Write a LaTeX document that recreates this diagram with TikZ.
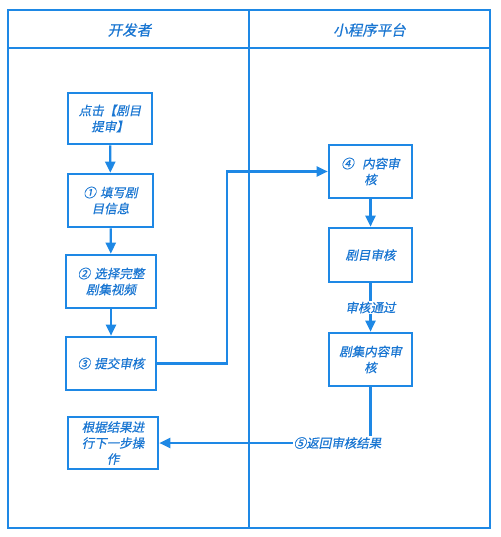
\documentclass[tikz,border=0pt]{standalone}
\usepackage{fontspec}
\setmainfont{Noto Sans CJK SC}[FakeSlant=0.2,FakeBold=0.5]
\usetikzlibrary{arrows.meta}
\definecolor{ln}{RGB}{30,136,229}
\definecolor{tx}{RGB}{25,118,210}
\begin{document}
\begin{tikzpicture}[x=1pt,y=-1pt,
  box/.style={draw=ln,line width=2.6pt,fill=white,text=tx,align=center,font=\fontsize{12.5}{16}\selectfont,inner sep=2pt},
  conn/.style={draw=ln,line width=2.3pt,-{Triangle[length=11pt,width=10pt]}},
  lbl/.style={text=tx,fill=white,font=\fontsize{12.5}{16}\selectfont,inner sep=1pt},
  head/.style={text=tx,font=\fontsize{14.5}{18}\selectfont,inner sep=1pt},
  frame/.style={draw=ln,line width=2.6pt}]
\useasboundingbox (0,0) rectangle (500,537);
\fill[white] (0,0) rectangle (500,537);
% frame
\draw[frame] (8,10) rectangle (490,528);
\draw[frame] (8,48) -- (490,48);
\draw[frame] (249,10) -- (249,528);
\node[head] (h1) at (129.5,30) {开发者};
\node[head] (h2) at (369.5,30) {小程序平台};
% left column
\node[box,minimum width=84pt,minimum height=51pt,text width=76pt] (a) at (110,118.5) {点击【剧目\\提审】};
\node[box,minimum width=85pt,minimum height=53pt,text width=76pt] (b) at (110.5,200.5) {① 填写剧\\目信息};
\node[box,minimum width=90pt,minimum height=53pt,text width=82pt] (c) at (111,281.5) {② 选择完整\\剧集视频};
\node[box,minimum width=90pt,minimum height=53pt,text width=82pt] (d) at (111,363.5) {③ 提交审核};
\node[box,minimum width=90pt,minimum height=52pt,text width=84pt] (e) at (113,443) {根据结果进\\行下一步操\\作};
% right column
\node[box,minimum width=83pt,minimum height=53pt,text width=76pt] (f) at (370.5,171.5) {④ \ 内容审\\核};
\node[box,minimum width=83pt,minimum height=54pt,text width=76pt] (g) at (370.5,255) {剧目审核};
\node[box,minimum width=83pt,minimum height=53pt,text width=76pt] (h) at (370.5,359.5) {剧集内容审\\核};
% connectors
\draw[conn] (a) -- (b);
\draw[conn] (b) -- (c);
\draw[conn] (c) -- (d);
\coordinate (p1) at (227,363.5);
\coordinate (p2) at (227,171.5);
\draw[conn] (d.east) -- (p1) -- (p2) -- (f.west);
\draw[conn] (f) -- (g);
\draw[conn] (g) -- node[lbl] (l1) {审核通过} (h);
\coordinate (p3) at (h.south |- e.east);
\draw[conn] (h.south) -- (p3) -- (e.east);
\node[lbl] (l2) at (337.5,443) {⑤返回审核结果};
\end{tikzpicture}
\end{document}
